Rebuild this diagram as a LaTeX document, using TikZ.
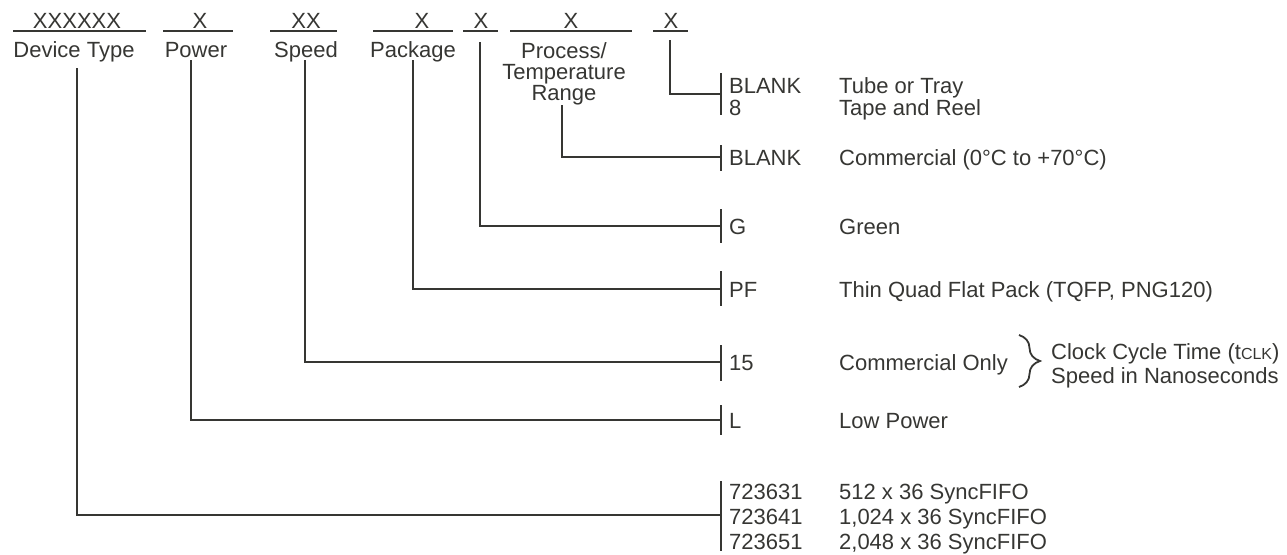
\documentclass[tikz,border=0pt]{standalone}
\usepackage{fontspec}
\setmainfont{Liberation Sans}
\usetikzlibrary{decorations.pathreplacing}
\definecolor{ink}{HTML}{363633}
\begin{document}
\begin{tikzpicture}[x=1pt,y=-1pt,line width=2.3pt,color=ink,
  hdr/.style={inner sep=0pt,anchor=base,font=\fontsize{22}{22}\selectfont},
  txt/.style={inner sep=0pt,anchor=base west,font=\fontsize{22}{22}\selectfont},
  connector/.style={line width=2.3pt},
  tickbar/.style={line width=2.3pt},
  rule/.style={line width=2.3pt}]
\useasboundingbox (0,0) rectangle (1287,554);
% header fields
\node[hdr] (x1) at (77,28) {XXXXXX};
\node[hdr] (x2) at (200,28) {X};
\node[hdr] (x3) at (306,28) {XX};
\node[hdr] (x4) at (422,28) {X};
\node[hdr] (x5) at (481,28) {X};
\node[hdr] (x6) at (571,28) {X};
\node[hdr] (x7) at (671,28) {X};
\draw[rule] (13,31) -- (146,31);
\draw[rule] (163,31) -- (233,31);
\draw[rule] (270,31) -- (337,31);
\draw[rule] (373,31) -- (453,31);
\draw[rule] (463,31) -- (498,31);
\draw[rule] (510,31) -- (632,31);
\draw[rule] (653,31) -- (688,31);
\node[hdr] (l1) at (74,57) {Device Type};
\node[hdr] (l2) at (196,57) {Power};
\node[hdr] (l3) at (306,57) {Speed};
\node[hdr] (l4) at (413,57) {Package};
\node[hdr] (l6a) at (564,58) {Process/};
\node[hdr] (l6b) at (564,79) {Temperature};
\node[hdr] (l6c) at (564,100) {Range};
% connector start points
\coordinate (s1) at (77,68);
\coordinate (s2) at (191,60);
\coordinate (s3) at (305,60);
\coordinate (s4) at (413,60);
\coordinate (s5) at (480,42);
\coordinate (s6) at (562,105);
\coordinate (s7) at (670,40);
% bar junctions
\coordinate (b7) at (721,94);
\coordinate (b6) at (721,157);
\coordinate (b5) at (721,226);
\coordinate (b4) at (721,289);
\coordinate (b3) at (721,362);
\coordinate (b2) at (721,420);
\coordinate (b1) at (721,515);
% bars
\draw[tickbar] (721,73) -- (721,115);
\draw[tickbar] (721,145) -- (721,171);
\draw[tickbar] (721,209) -- (721,243);
\draw[tickbar] (721,271) -- (721,306);
\draw[tickbar] (721,345) -- (721,381);
\draw[tickbar] (721,405) -- (721,435);
\draw[tickbar] (721,481) -- (721,551);
% connectors
\draw[connector] (s1) |- (b1);
\draw[connector] (s2) |- (b2);
\draw[connector] (s3) |- (b3);
\draw[connector] (s4) |- (b4);
\draw[connector] (s5) |- (b5);
\draw[connector] (s6) |- (b6);
\draw[connector] (s7) |- (b7);
% codes
\node[txt] (c7a) at (728,93) {BLANK};
\node[txt] (c7b) at (728,115) {8};
\node[txt] (c6) at (728,165) {BLANK};
\node[txt] (c5) at (728,234) {G};
\node[txt] (c4) at (728,297) {PF};
\node[txt] (c3) at (728,370) {15};
\node[txt] (c2) at (728,428) {L};
\node[txt] (c1a) at (728,499) {723631};
\node[txt] (c1b) at (728,524) {723641};
\node[txt] (c1c) at (728,549) {723651};
% descriptions
\node[txt] (d7a) at (838,93) {Tube or Tray};
\node[txt] (d7b) at (838,115) {Tape and Reel};
\node[txt] (d6) at (838,165) {Commercial (0°C to +70°C)};
\node[txt] (d5) at (838,234) {Green};
\node[txt] (d4) at (838,297) {Thin Quad Flat Pack (TQFP, PNG120)};
\node[txt] (d3) at (838,370) {Commercial Only};
\node[txt] (d2) at (838,428) {Low Power};
\node[txt] (d1a) at (838,499) {512 x 36 SyncFIFO};
\node[txt] (d1b) at (838,524) {1,024 x 36 SyncFIFO};
\node[txt] (d1c) at (838,549) {2,048 x 36 SyncFIFO};
% brace and note
\draw[line width=1.8pt,decorate,decoration={brace,amplitude=21pt}] (1019,335) -- (1019,387);
\node[txt] (n1) at (1050,359) {Clock Cycle Time (t{\fontsize{16}{16}\selectfont CLK})};
\node[txt] (n2) at (1050,383) {Speed in Nanoseconds};
\end{tikzpicture}
\end{document}
